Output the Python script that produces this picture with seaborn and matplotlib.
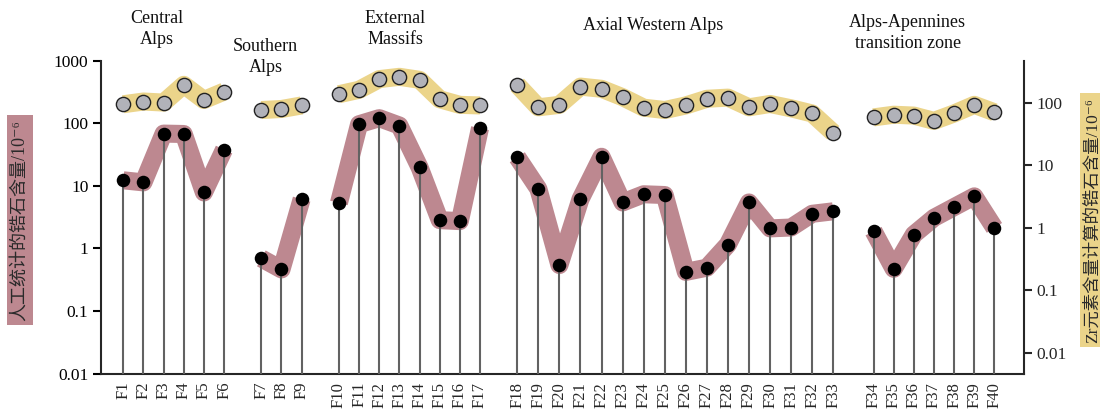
import pandas as pd
import matplotlib.pyplot as plt
import matplotlib.transforms as mtransforms
from matplotlib.ticker import FixedLocator, FixedFormatter, NullLocator
import seaborn as sns


# sample names and the region each one belongs to
samples = ['F1', 'F2', 'F3', 'F4', 'F5', 'F6',
           'F7', 'F8', 'F9',
           'F10', 'F11', 'F12', 'F13', 'F14', 'F15', 'F16', 'F17',
           'F18', 'F19', 'F20', 'F21', 'F22', 'F23', 'F24', 'F25',
           'F26', 'F27', 'F28', 'F29', 'F30', 'F31', 'F32', 'F33',
           'F34', 'F35', 'F36', 'F37', 'F38', 'F39', 'F40']
group_names = ['Central\nAlps', 'Southern\nAlps', 'External\nMassifs',
               'Axial Western Alps', 'Alps-Apennines\ntransition zone']
group_sizes = [6, 3, 8, 16, 7]

# zircon content counted by hand (left axis, 10^-6)
manual = [12.2, 11.3, 68, 67, 7.8, 37.8,
          0.69, 0.46, 6.1,
          5.3, 96, 120, 91.5, 19.7, 2.82, 2.72, 83,
          28.5, 8.9, 0.54, 6.1, 29, 5.4, 7.3, 7.1,
          0.42, 0.49, 1.15, 5.4, 2.08, 2.15, 3.56, 3.9,
          1.88, 0.47, 1.66, 3.07, 4.56, 6.76, 2.12]

# zircon content computed from Zr (right axis, 10^-6)
zr_calc = [94, 104, 100, 192, 110, 150,
           76, 79, 90,
           136, 160, 237, 258, 231, 113, 92, 90,
           192, 84, 92, 180, 166, 122, 83, 76,
           90, 115, 120, 84, 95, 81, 67, 33,
           58, 64, 62, 51, 67, 92, 70]

# layout: gap between groups and step inside a group (x units)
gaps = [0, 1.85, 1.85, 1.85, 2.0]
steps = [1, 1, 1, 1.045, 1]
title_shift = [-0.85, -0.8, -0.7, -1.1, -1.3]
title_y = [0.93, 0.862, 0.93, 0.939, 0.92]

pos, grp = [], []
x = 0.0
for g, (n, gap, st) in enumerate(zip(group_sizes, gaps, steps)):
    x += gap
    for k in range(n):
        pos.append(x + k * st)
        grp.append(g)
    x = pos[-1]

df = pd.DataFrame({'sample': samples, 'pos': pos, 'group': grp,
                   'manual': manual, 'zr': zr_calc})

pink = '#bd8890'
yellow = '#ebd48a'

sns.set_theme(style='ticks')
plt.rcParams['font.family'] = ['Liberation Serif', 'Noto Sans CJK SC', 'DejaVu Sans']
plt.rcParams['axes.linewidth'] = 1.5

fig = plt.figure(figsize=(11, 4.13), dpi=100)
ax = fig.add_axes([0.0918, 0.0956, 0.8387, 0.7579])
ax.set_yscale('log')

sns.lineplot(data=df, x='pos', y='manual', units='group', estimator=None,
             color=pink, lw=13, solid_joinstyle='round', solid_capstyle='butt',
             zorder=1, ax=ax)
ax.vlines(df['pos'], 0.01, df['manual'], colors='#626262', lw=1.5, zorder=3)
sns.scatterplot(data=df, x='pos', y='manual', color='black', s=95,
                edgecolor='black', linewidth=0, zorder=4, ax=ax)

ax.set_xlim(-1.107, 44.67)
ax.set_ylim(0.01, 1000)
ax.yaxis.set_major_locator(FixedLocator([0.01, 0.1, 1, 10, 100, 1000]))
ax.yaxis.set_major_formatter(FixedFormatter(['0.01', '0.1', '1', '10', '100', '1000']))
ax.yaxis.set_minor_locator(NullLocator())
ax.set_xticks(df['pos'])
ax.set_xticklabels(df['sample'], rotation=90, fontsize=12)
ax.tick_params(axis='x', length=0, pad=6)
ax.tick_params(axis='y', length=6, width=1.5, labelsize=12.5, pad=3, colors='black')
ax.set_xlabel('')
ax.set_ylabel('人工统计的锆石含量/10⁻⁶', fontsize=13, color='#2a2a2a',
              bbox=dict(boxstyle='square,pad=0.25', fc=pink, ec='none'))
ax.yaxis.set_label_coords(-0.079, 0.49)
for side in ['top', 'right']:
    ax.spines[side].set_visible(False)

ax2 = ax.twinx()
ax2.set_yscale('log')
sns.lineplot(data=df, x='pos', y='zr', units='group', estimator=None,
             color=yellow, lw=13, solid_joinstyle='round', solid_capstyle='butt',
             zorder=1, ax=ax2)
sns.scatterplot(data=df, x='pos', y='zr', color='#b1b2b9', s=105,
                edgecolor='#222222', linewidth=1, zorder=4, ax=ax2)
ax2.set_xlim(-1.107, 44.67)
ax2.set_ylim(0.0047, 470)
ax2.yaxis.set_major_locator(FixedLocator([0.01, 0.1, 1, 10, 100]))
ax2.yaxis.set_major_formatter(FixedFormatter(['0.01', '0.1', '1', '10', '100']))
ax2.yaxis.set_minor_locator(NullLocator())
ax2.tick_params(axis='y', length=6, width=1.5, labelsize=12.5, pad=3)
ax2.set_ylabel('Zr元素含量计算的锆石含量/10⁻⁶', fontsize=12.5, color='#2a2a2a',
               bbox=dict(boxstyle='square,pad=0.25', fc=yellow, ec='none'))
ax2.yaxis.set_label_coords(1.066, 0.49)
for side in ['top', 'left', 'bottom']:
    ax2.spines[side].set_visible(False)

# region titles above the groups
trans = mtransforms.blended_transform_factory(ax.transData, fig.transFigure)
for g, name in enumerate(group_names):
    xs = df.loc[df['group'] == g, 'pos']
    xc = (xs.min() + xs.max()) / 2 + title_shift[g]
    ax.text(xc, title_y[g], name, transform=trans, ha='center', va='center',
            fontsize=13, linespacing=1.3, color='#111111')

fig.savefig('out.png', dpi=100)
